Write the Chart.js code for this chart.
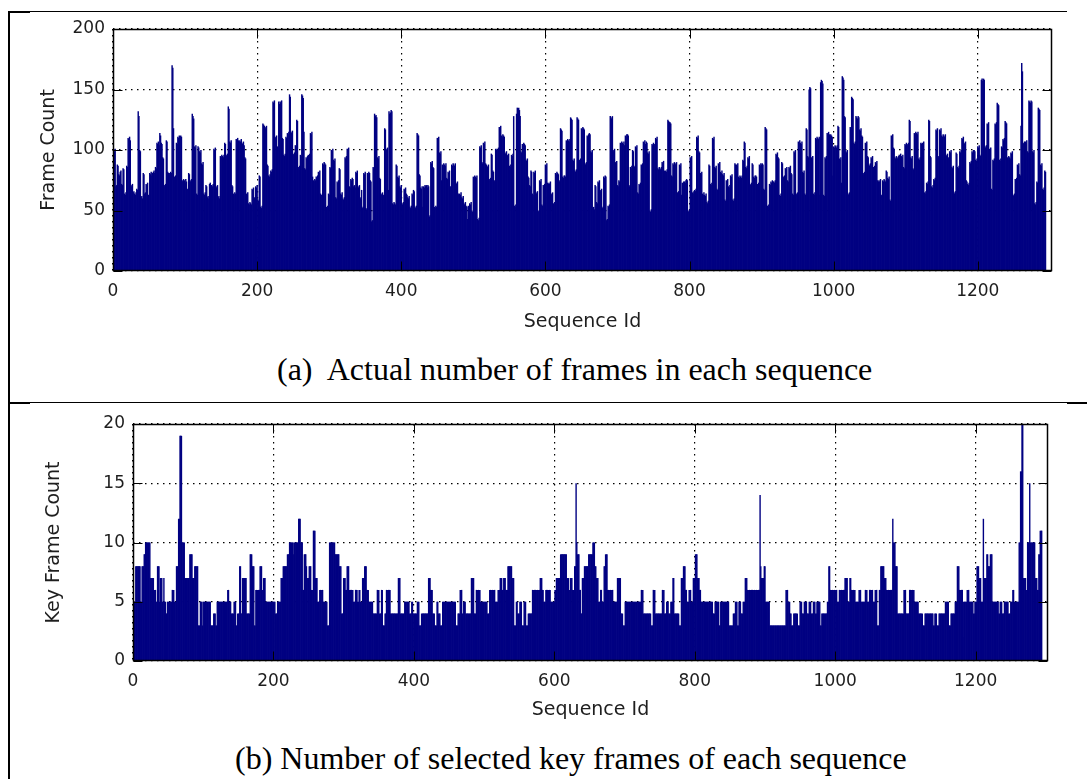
<!DOCTYPE html>
<html>
<head>
<meta charset="utf-8">
<title>Frames per sequence</title>
<script src="https://cdn.jsdelivr.net/npm/chart.js@4.4.1/dist/chart.umd.min.js"></script>
<style>
  html, body { margin: 0; padding: 0; background: #fff; }
  body { width: 1087px; height: 779px; position: relative; overflow: hidden; }
  .rule { position: absolute; background: #000; }
  .panel { position: absolute; left: 0; }
  .caption {
    position: absolute; white-space: pre; line-height: 1; color: #000;
    font-family: "Liberation Serif", "Times New Roman", serif; font-size: 32px;
  }
</style>
</head>
<body>

<div class="rule" style="left:8px;top:11px;width:2px;height:768px"></div>
<div class="rule" style="left:9px;top:11px;width:1058px;height:1px"></div>
<div class="rule" style="left:9px;top:11px;width:21px;height:2px"></div>
<div class="rule" style="left:9px;top:402px;width:1058px;height:1px"></div>
<div class="rule" style="left:9px;top:402px;width:21px;height:2px"></div>
<div class="rule" style="left:1067px;top:402px;width:20px;height:2px"></div>

<canvas id="framesChart" class="panel" style="top:0" width="1087" height="340"></canvas>
<canvas id="keyFramesChart" class="panel" style="top:390px" width="1087" height="340"></canvas>

<div class="caption" style="left:277px;top:353px">(a)  Actual number of frames in each sequence</div>
<div class="caption" style="left:235px;top:742px">(b) Number of selected key frames of each sequence</div>

<script>
// frames per sequence, sequence ids 1..1294
const frameCounts = [
  100,99,101,70,71, 88,87,80,79,82,83, 72,71,85,84,64,63,65,87,86,
  110,109,111,108,71,70,72,65,66, 64,63,65,68,67,132,128,100,99,
  61,62,60,81,80,64,65,72,71,73,63,62, 81,80,82,79,81,82,83,81,86,85,
  106,105,107,104,114,112,106,105,94,93, 71,70,72,108,107,82,81,81,80,82,81,
  170,168,118,78,77,79,106,105,111,110,112, 86,112,111,75,74,76,75,73,76,74,
  68,67,81,80,75,74,76,130,128,126, 103,102,104,64,63,103,102,99,98,100,
  89,88,90,64,63,65,71,70,61,62, 60,72,73,71,71,70,72,101,100,102,
  70,69,71,61,62,60,95,94,96,95, 94,96,106,105,96,95,97,136,134,107,
  106,108,71,70,64,63,65,64,109,108, 110,108,107,108,107,109,106,105,107,104,
  94,93,64,63,65,56,55,57,56,55, 68,67,69,61,60,70,69,71,59,58,
  79,78,53,52,54,122,121,120,119,118, 120,88,87,79,78,80,83,82,84,140,
  139,141,111,110,112,103,102,140,138,140, 139,141,110,109,96,95,97,111,110,114,
  113,115,146,144,115,114,116,97,96,98, 104,103,125,124,86,85,87,96,95,146,
  145,143,115,85,84,94,93,95,96,95, 97,114,113,115,78,75,74,76,75,78,
  77,79,82,81,83,64,63,38,89,88, 90,89,88,53,52,54,64,63,86,85,
  100,99,101,92,91,93,61,60,74,73, 75,85,84,64,63,65,60,59,61,94,
  93,95,101,100,102,
  70,69,76,75,77,76,70,71,69,82, 81,83,70,69,71,60,61,67,52,53,
  81,80,82,52,51,81,80,82,81,75, 74,41,42,86,85,130,128,129,127,94,
  93,95,77,76,64,63,65,63,62,118, 117,101,100,102,67,132,130,131,133,132,
  56,55,57,56,55,88,87,78,77,79, 70,69,71,56,55,57,68,67,69,64,
  63,61,60,62,53,52,54,64,63,67, 66,53,52,54,114,113,112,80,79,69,
  68,70,53,70,69,71,70,71,69,71, 70,45,46,90,89,91,86,85,53,52,
  54,53,110,109,111,98,97,99,75,88, 87,89,88,87,89,77,76,82,81,83,
  70,69,88,87,89,88,87,89,73,72, 74,64,63,64,63,65,61,60,62,56,
  55,57,54,53,43,54,53,56,55,57, 50,49,78,77,79,78,77,79,43,42,
  44,103,102,104,90,89,106,105,107,89, 88,87,86,88,76,75,77,97,96,83,
  82,75,74,101,100,101,100,102,119,118, 120,112,111,113,112,111,98,97,99,96,
  95,97,87,86,88,96,95,97,128,54, 53,55,130,135,134,135,133,128,99,98,
  105,104,106,105,104,92,91,93,78,77, 71,70,83,82,64,63,82,81,83,65,
  64,66,50,49,75,74,76,55,54,71, 70,72,88,87,89,73,72,73,72,74,
  64,63,65,56,55,57,81,80,82,81, 80,75,74,118,117,116,78,77,79,79,
  78,108,107,109,108,107,109,127,126,125, 92,91,93,83,82,84,127,126,125,92,
  91,93,118,117,119,118,117,89,88,90, 112,111,113,114,113,
  99,98,100,52,53,51,71,70,57,56, 74,73,75,67,66,68,52,53,78,77,
  79,78,42,43,54,53,55,128,127,126, 128,100,99,101,90,89,91,71,70,75,
  74,106,105,107,106,105,107,104,112,111, 113,113,112,71,70,86,85,87,100,99,
  87,86,103,102,104,65,64,72,71,73, 88,87,89,107,106,108,105,107,106,98,
  97,99,50,49,51,105,104,106,105,104, 110,109,111,85,84,86,85,84,86,90,
  89,91,83,82,83,82,84,125,124,123, 123,122,79,78,89,88,90,89,88,90,
  65,64,66,88,87,89,63,73,72,74, 74,73,75,76,75,50,49,51,94,93,
  95,65,64,66,67,66,68,111,110,112, 99,98,81,80,82,64,63,65,63,62,
  64,57,56,58,88,87,72,71,73,110, 109,111,86,85,87,68,67,89,88,90,
  82,81,83,80,79,81,59,58,75,74, 76,70,69,71,79,78,80,59,58,60,
  89,88,88,87,89,78,77,79,78,77, 79,92,91,107,106,86,85,87,94,93,
  95,72,71,73,89,88,78,77,79,79, 78,72,71,73,88,87,89,88,89,88,
  68,67,119,118,117,54,53,55,72,71, 74,73,75,74,74,73,75,97,96,98,
  94,93,63,62,64,90,89,78,77,79, 85,84,86,75,74,86,85,87,81,80,
  64,63,99,98,100,64,63,65,107,106, 108,106,105,107,82,81,83,64,63,118,
  117,95,94,150,152,151,94,93,95,64, 63,65,110,109,111,110,109,111,63,156,
  158,157,155,63,62,94,93,95,114,113, 115,113,112,
  113,112,111,79,103,102,104,103,102,104, 120,119,93,92,94,73,161,160,158,128,
  127,99,98,100,64,63,65,119,118,144, 143,142,106,105,107,128,127,126,128,127,
  117,116,118,112,111,81,80,82,106,105, 107,95,94,88,87,89,94,93,95,86,
  85,87,90,89,91,75,74,75,74,76, 63,62,75,74,76,75,74,83,82,77,
  76,78,59,58,112,111,113,102,101,94, 93,95,94,93,95,96,95,97,95,94,
  96,86,85,105,104,106,105,104,106,125, 124,94,93,95,85,84,114,113,115,114,
  113,115,93,92,94,106,105,106,105,107, 65,64,66,73,72,74,125,124,95,94,
  70,69,71,76,75,77,117,116,118,95, 94,117,116,118,112,111,113,112,111,113,
  96,95,97,94,93,99,98,100,86,85, 87,65,64,66,98,97,86,85,87,99,
  98,100,110,109,111,106,105,107,75,74, 72,71,73,90,89,91,99,98,100,100,
  99,92,91,93,103,102,104,96,95,158, 159,157,159,158,103,102,104,122,121,123,
  101,100,102,68,67,92,91,93,122,121, 123,139,138,137,92,91,93,103,102,109,
  108,110,124,123,122,94,93,95,94,93, 98,97,99,63,62,64,76,75,77,88,
  87,89,80,79,120,172,165,106,105,107, 107,106,108,99,98,141,140,139,141,140,
  99,98,100,56,55,57,74,73,135,134, 133,88,87,89,68,67,69,83,82
];

// selected key frames per sequence, same ids
const keyFrameCounts = [
  5,5,5,8,8,8,8,8,8,8, 5,5,8,8,8,9,9,10,10,10, 10,10,10,10,7,7,7,7,7,6,
  6,6,5,5,8,8,8,5,7,7, 7,5,5,7,5,5,4,4,5,5, 5,5,5,5,5,6,6,6,5,5,
  5,8,8,8,12,12,19,19,19,10, 10,10,10,7,7,7,7,7,7,7, 9,9,9,9,7,7,7,8,8,8,
  8,8,3,3,3,5,5,5,3,5, 5,5,5,5,5,5,5,5,5,5, 3,3,3,3,4,4,4,3,3,5,
  5,5,5,5,5,5,5,5,5,5, 5,5,5,5,6,6,5,5,5,4, 4,4,4,5,5,5,3,3,4,4,
  4,8,8,4,4,7,7,7,7,7, 7,4,4,4,4,4,9,9,9,8, 8,8,3,3,6,6,6,6,6,6,
  8,8,8,6,6,7,7,7,5,5, 5,5,5,5,5,5,5,5,5,5, 5,5,4,4,4,5,5,5,5,5,
  7,7,7,8,8,8,8,8,8,9, 9,9,10,10,10,10,10,10,9,10, 10,10,10,10,10,12,12,12,10,10,
  10,6,6,9,9,9,8,7,7,7, 8,8,8,6,6,6,11,11,11,7, 7,7,5,5,5,6,6,6,6,6,
  5,5,5,5,5,5,3,3,3,10, 10,10,10,10,10,10,10,9,9,9, 9,9,9,8,8,8,4,4,4,7,
  7,7,6,6,8,8,8,6,6,6, 6,6,6,5,5,5,6,6,6,5, 5,6,6,
  5,5,5,7,7,7,8,8,8,6, 6,6,5,5,5,5,5,5,4,4, 4,4,4,4,6,6,6,4,4,4,
  6,6,3,3,3,4,4,6,6,6, 6,6,6,4,4,4,4,4,4,4, 4,4,4,4,7,7,7,4,4,4,
  4,4,4,5,5,5,5,5,5,5, 4,4,4,5,5,4,4,4,4,4, 4,5,5,5,3,3,3,4,4,4,
  4,4,4,4,4,4,4,7,7,7, 6,6,6,4,4,4,3,3,3,5, 5,4,4,4,3,3,3,5,5,5,
  5,5,5,5,5,5,5,5,5,5, 5,5,5,5,5,5,3,3,3,4, 4,4,6,6,6,4,4,5,5,5,
  4,4,4,4,4,4,4,4,7,7, 7,7,4,4,4,6,6,6,6,6, 6,5,5,5,5,5,5,5,5,5,
  5,4,4,4,6,6,6,6,6,6, 6,6,5,5,5,5,6,6,6,7, 7,7,6,6,7,7,7,6,6,6,
  8,8,8,8,8,8,7,7,7,3, 3,3,5,5,4,4,4,5,5,5, 3,3,3,5,5,5,3,3,3,4,
  4,4,4,4,4,6,6,6,6,6, 6,6,6,6,6,6,7,7,7,6, 6,5,5,5,6,6,6,6,6,6,
  6,5,5,5,5,5,5,6,6,7, 7,7,7,7,7,9,9,9,9,9, 9,9,9,9,7,7,7,6,6,7,
  7,7,6,6,6,8,8,15,10,9, 9,9,6,6,4,4,7,7,7,8, 8,8,8,8,8,9,9,9,
  9,9,9,10,10,10,8,8,7,7, 7,5,5,5,6,6,5,5,5,8, 8,9,9,9,6,6,6,6,6,6,
  6,6,5,5,5,5,5,5,7,7, 7,7,7,4,4,4,3,3,3,5, 5,5,5,5,5,5,5,5,5,5,
  5,5,5,5,5,5,5,5,5,5, 5,5,6,6,6,4,4,4,4,4, 4,4,4,4,4,4,3,3,3,6,
  6,6,4,4,4,4,4,4,4,4, 4,4,6,6,6,4,4,4,5,5, 5,4,4,4,5,5,5,7,7,4,
  4,4,4,4,4,4,3,3,3,7, 7,7,8,8,8,6,6,5,5,5, 6,6,6,5,5,5,7,7,7,9,
  9,9,7,7,7,6,6,5,5,5, 5,5,5,5,5,5,5,5,5,5, 5,5,5,5,4,4,4,5,5,5,
  5,5,5,3,3,5,5,5,5,5, 5,5,5,5,5,5,5,3,3,3, 3,3,3,4,4,4,5,5,5,3,
  3,5,5,5,4,4,4,5,5,5, 7,7,7,6,6,6,6,6,6,6, 6,6,6,6,6,6,6,6,6,6,
  6,14,8,7,7,7,7,8,8,5, 5,5,5,5,5,3,3,3,3,3, 3,3,3,3,3,3,3,3,3,3,
  3,3,3,3,3,3,3,3,6,6, 6,5,5,5,4,4,3,3,3,4, 4,4,4,4,4,3,3,3,5,5,
  5,4,4,4,5,5,5,5,4,4, 4,5,5,5,4,4,4,5,5,5, 4,4,5,5,5,5,5,
  3,3,4,4,4,4,4,4,4,4, 5,5,8,8,6,6,6,6,6,6, 6,6,6,6,5,5,5,6,6,6,
  6,6,6,6,6,7,7,7,7,5, 5,5,7,7,6,6,6,6,6,6, 5,5,5,5,5,6,6,6,5,5,
  5,5,5,5,6,6,6,5,5,5, 6,6,6,6,6,5,5,5,6,6, 6,3,3,3,6,6,8,8,8,8,
  8,7,7,7,6,6,6,6,6,6, 6,6,6,12,10,10,10,8,8,8, 4,4,4,4,4,4,4,4,4,6,
  6,6,4,4,4,4,4,6,6,6, 6,6,6,6,5,5,5,5,5,5, 4,4,4,4,4,4,3,3,3,4,
  4,4,4,4,4,4,4,4,4,4, 4,3,3,4,4,4,3,3,3,4, 4,4,4,4,4,4,4,4,5,5,
  5,5,5,3,3,3,4,4,4,4, 4,4,5,5,5,8,8,8,6,6, 6,6,6,2,5,5,5,5,5,6,
  6,6,5,5,5,5,5,5,4,4, 5,5,5,8,8,8,7,7,7,5, 5,5,12,7,7,7,7,9,9,8,
  8,8,9,9,9,5,5,5,5,5, 5,5,5,5,4,4,5,5,5,4, 4,4,5,5,5,5,5,5,4,4,
  4,5,5,5,6,6,5,5,5,5, 5,5,5,10,10,16,16,20,20,7, 7,7,7,6,6,10,10,10,15,10,
  10,10,10,10,10,10,7,7,7,6, 6,9,9,11,11,11
];

const seqTicks = [0, 200, 400, 600, 800, 1000, 1200];
const seqMax = 1303;
const frameTicks = [0, 50, 100, 150, 200];
const keyFrameTicks = [0, 5, 10, 15, 20];

const barColor = '#000082';
const tickFont = { family: 'DejaVu Sans', size: 17 };
const titleFont = { family: 'DejaVu Sans', size: 19 };
const textColor = '#1e1e1e';

// box round the plot with inward tick marks on all four sides
const boxedAxes = {
  id: 'boxedAxes',
  afterDatasetsDraw(chart) {
    const { ctx, chartArea: a, scales: { x, y } } = chart;
    const len = 9;
    const L = Math.round(a.left) + 0.5, R = Math.round(a.right) - 0.5;
    const T = Math.round(a.top) + 0.5, B = Math.round(a.bottom) - 0.5;
    ctx.save();
    ctx.strokeStyle = '#000';
    ctx.lineWidth = 1;
    ctx.beginPath();
    x.ticks.forEach(t => {
      const px = Math.round(x.getPixelForValue(t.value)) + 0.5;
      ctx.moveTo(px, B); ctx.lineTo(px, B - len);
      ctx.moveTo(px, T); ctx.lineTo(px, T + len);
    });
    y.ticks.forEach(t => {
      const py = Math.round(y.getPixelForValue(t.value)) + 0.5;
      ctx.moveTo(L, py); ctx.lineTo(L + len, py);
      ctx.moveTo(R, py); ctx.lineTo(R - len, py);
    });
    ctx.stroke();
    ctx.lineWidth = 1.5;
    ctx.strokeRect(L, T, R - L, B - T);
    ctx.restore();
  }
};

function barPanel(canvasId, values, yTicks, yTitle, box) {
  const data = values.map((v, i) => ({ x: i + 1, y: v }));
  return new Chart(document.getElementById(canvasId), {
    type: 'bar',
    data: {
      datasets: [{
        data: data,
        backgroundColor: barColor,
        borderWidth: 0,
        barPercentage: 2,
        categoryPercentage: 1,
        inflateAmount: 0
      }]
    },
    options: {
      responsive: false,
      animation: false,
      events: [],
      layout: { padding: { left: 0, right: box.right, top: box.top, bottom: 0 } },
      plugins: { legend: { display: false }, tooltip: { enabled: false } },
      scales: {
        x: {
          type: 'linear',
          min: 0,
          max: seqMax,
          offset: false,
          afterBuildTicks: s => { s.ticks = seqTicks.map(v => ({ value: v })); },
          afterFit: s => { s.height = box.xHeight; },
          grid: { color: '#000', lineWidth: 1.2, drawTicks: false, offset: false },
          border: { display: false, dash: [1.5, 4.5] },
          ticks: {
            color: textColor, font: tickFont, padding: 10, maxRotation: 0,
            callback: v => String(v)
          },
          title: {
            display: true, text: 'Sequence Id', color: textColor, font: titleFont,
            padding: { top: 0, bottom: box.xTitleBottom }
          }
        },
        y: {
          min: yTicks[0],
          max: yTicks[yTicks.length - 1],
          afterBuildTicks: s => { s.ticks = yTicks.map(v => ({ value: v })); },
          afterFit: s => { s.width = box.left; },
          grid: { color: '#000', lineWidth: 1.2, drawTicks: false },
          border: { display: false, dash: [1.5, 4.5] },
          ticks: { color: textColor, font: tickFont, padding: 8, callback: v => String(v) },
          title: {
            display: true, text: yTitle, color: textColor, font: titleFont,
            padding: { top: box.yTitleLeft, bottom: 0 }
          }
        }
      }
    },
    plugins: [boxedAxes]
  });
}

barPanel('framesChart', frameCounts, frameTicks, 'Frame Count',
  { left: 113, right: 35, top: 29, xHeight: 69, xTitleBottom: 7, yTitleLeft: 38 });
barPanel('keyFramesChart', keyFrameCounts, keyFrameTicks, 'Key Frame Count',
  { left: 133, right: 39, top: 34, xHeight: 69, xTitleBottom: 9, yTitleLeft: 43 });
</script>
</body>
</html>
